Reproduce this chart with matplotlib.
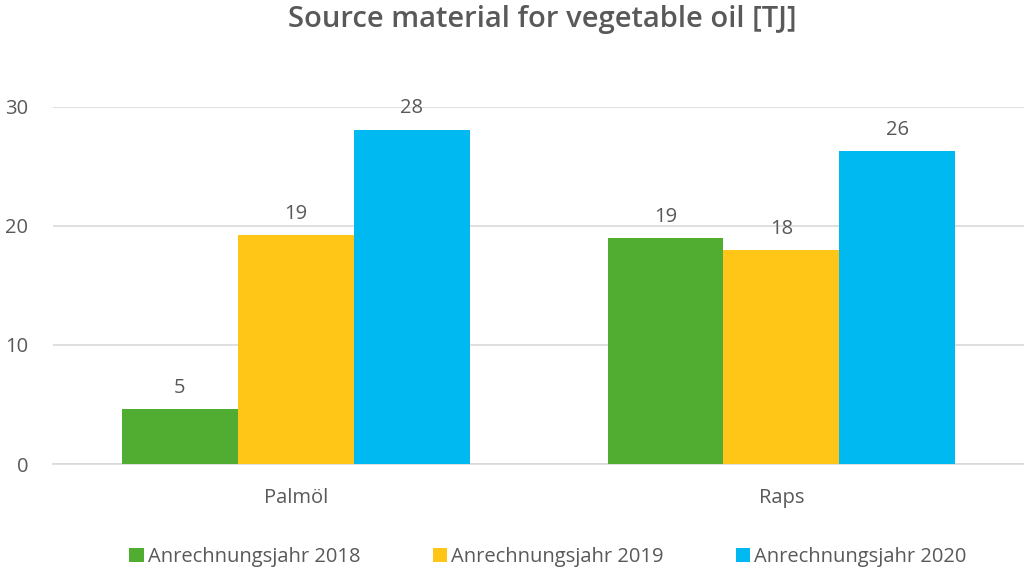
import numpy as np
import matplotlib.pyplot as plt

categories = ['Palmöl', 'Raps']
series_names = ['Anrechnungsjahr 2018', 'Anrechnungsjahr 2019', 'Anrechnungsjahr 2020']
values_2018 = [4.6, 19.0]
values_2019 = [19.2, 18.0]
values_2020 = [28.1, 26.3]
labels_2018 = ['5', '19']
labels_2019 = ['19', '18']
labels_2020 = ['28', '26']
colors = ['#50AD32', '#FFC617', '#00B9F1']

plt.rcParams['font.family'] = ['Open Sans', 'DejaVu Sans']
txt = '#595959'

fig = plt.figure(figsize=(10.24, 5.72), dpi=100)
ax = fig.add_axes([0.0518, 0.1888, 0.9482, 0.6242])

x = np.arange(len(categories))
w = 0.2386
for i, (vals, labs) in enumerate(zip([values_2018, values_2019, values_2020],
                                     [labels_2018, labels_2019, labels_2020])):
    bars = ax.bar(x + (i - 1) * w, vals, width=w, color=colors[i], label=series_names[i], zorder=3)
    for b, lab in zip(bars, labs):
        ax.annotate(lab, (b.get_x() + b.get_width() / 2, b.get_height()),
                    xytext=(0, 8), textcoords='offset points', ha='center', va='bottom',
                    fontsize=14.5, color=txt, annotation_clip=False)

ax.set_xlim(-0.5, 1.5)
ax.set_ylim(0, 30)
ax.set_yticks([0, 10, 20, 30])
ax.yaxis.grid(True, color='#D9D9D9', linewidth=1.2, zorder=0)
ax.set_xticks(x)
ax.set_xticklabels(categories)
ax.tick_params(axis='both', length=0, labelsize=14.5, labelcolor=txt)
ax.tick_params(axis='y', pad=18)
ax.tick_params(axis='x', pad=17)
for s in ['top', 'right', 'left']:
    ax.spines[s].set_visible(False)
ax.spines['bottom'].set_color('#D9D9D9')
ax.spines['bottom'].set_linewidth(1.2)

fig.text(0.53, 0.966, 'Source material for vegetable oil [TJ]', ha='center', va='center',
         fontsize=21, color=txt, fontweight='semibold')

leg = fig.legend(loc='center', bbox_to_anchor=(0.535, 0.026), ncol=3, frameon=False,
                 fontsize=14.5, handlelength=0.7, handleheight=0.7, handletextpad=0.2,
                 columnspacing=3.6, labelcolor=txt)

fig.savefig('out.png', dpi=100)
